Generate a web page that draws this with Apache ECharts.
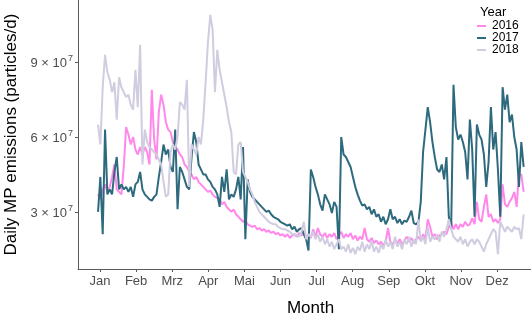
<!DOCTYPE html>
<html>
<head>
<meta charset="utf-8">
<script src="https://cdn.jsdelivr.net/npm/echarts@6/dist/echarts.min.js"></script>
<style>
html,body{margin:0;padding:0;background:#fff;}
#chart{width:531px;height:317px;}
</style>
</head>
<body>
<div id="chart"></div>
<script>
// Month tick labels (German) and positions
const months = ['Jan','Feb','Mrz','Apr','Mai','Jun','Jul','Aug','Sep','Okt','Nov','Dez'];
const monthTicks = [1,2,3,4,5,6,7,8,9,10,11,12];
// y ticks in units of 10^7
const yTicks = [3, 6, 9];
const years = ['2016', '2017', '2018'];

// Sampling: one value every 2 days starting at the first day of January
const startMonth = 0.945;
const stepDays = 2;
const daysPerMonth = 30.87;

// Daily MP emissions, in units of 10^7 particles/d
const v2016 = [
3.7,3.5,3.9,4.1,3.8,4.0,4.4,4.9,3.9,3.8,
3.7,4.8,6.4,6.1,5.7,6.0,5.5,5.3,5.6,5.3,
5.6,5.4,4.9,7.9,5.9,5.1,7.0,7.7,7.3,6.6,
6.3,6.2,5.8,5.6,5.5,5.3,5.2,4.9,4.8,4.6,
4.5,4.3,4.4,4.2,4.1,4.0,3.9,3.8,3.85,3.7,
3.6,3.55,3.5,3.3,3.4,3.2,3.1,3.0,3.1,2.9,
2.8,2.7,2.6,2.65,2.5,2.45,2.4,2.45,2.3,2.35,
2.25,2.3,2.2,2.25,2.15,2.2,2.1,2.15,2.05,2.1,
2.0,2.1,1.95,2.05,2.1,2.0,2.15,2.05,2.2,2.0,
2.1,1.95,2.3,2.0,2.35,2.1,2.0,2.15,1.95,2.1,
2.0,2.15,1.9,2.05,2.2,1.95,2.1,2.0,2.15,1.9,
2.05,1.85,2.0,1.9,2.35,1.9,1.8,1.95,1.75,1.85,
1.7,1.8,1.65,1.8,2.35,1.8,1.7,1.85,1.75,1.9,
1.7,1.85,2.0,1.8,1.95,1.75,1.9,2.0,1.85,2.1,
1.9,2.7,2.4,2.0,2.1,1.9,2.05,2.1,2.2,2.1,
2.4,2.6,2.3,2.5,2.3,2.5,2.4,2.6,2.45,2.5,
2.75,2.5,3.4,2.7,2.6,3.2,3.7,2.8,2.9,2.6,
2.7,2.55,2.7,4.1,3.3,3.2,3.4,3.55,3.8,3.2,
4.5,4.5,3.8
];
const v2017 = [
3.0,4.4,2.1,6.3,3.7,3.9,3.7,4.6,5.2,3.9,
4.1,3.9,4.0,3.8,4.0,3.6,4.1,4.2,4.6,3.9,
3.7,3.6,3.5,3.45,3.6,3.7,4.4,5.0,5.7,5.3,
5.5,4.8,4.6,6.3,3.1,4.8,4.6,4.3,4.0,3.9,
5.2,6.2,5.8,4.9,4.7,4.5,4.5,4.3,4.2,4.0,
3.9,3.7,3.2,4.4,3.8,4.7,3.5,3.7,3.6,3.9,
4.4,3.5,5.6,1.9,4.3,3.8,3.6,3.5,3.4,3.3,
3.2,3.1,3.0,3.05,2.9,2.8,2.75,2.7,2.6,2.55,
2.5,2.45,2.5,2.3,2.4,2.2,2.3,2.35,2.1,1.9,
1.45,4.7,4.4,4.0,3.7,3.3,3.05,3.7,3.5,3.3,
2.95,3.4,3.2,1.5,6.0,5.3,5.2,5.0,4.8,4.4,
4.0,3.7,3.45,3.25,3.3,3.1,3.2,2.9,3.1,2.8,
2.9,2.6,2.8,2.5,2.7,3.1,2.7,2.8,2.55,2.7,
2.5,2.65,2.6,2.8,3.05,2.55,2.5,2.6,3.4,5.4,
6.3,7.2,6.6,5.8,5.2,4.7,4.6,4.9,4.3,5.2,
2.8,2.3,8.1,6.4,5.9,6.1,5.8,5.4,4.3,6.7,
5.5,2.8,6.5,6.1,5.9,5.3,4.0,5.0,7.2,5.5,
6.2,4.7,2.8,8.0,7.1,7.7,6.6,6.9,6.0,5.5,
4.0,5.8,4.8
];
const v2018 = [
6.5,5.7,8.0,9.3,8.6,8.3,7.8,8.2,6.7,8.4,
8.0,7.8,7.6,7.7,7.3,7.1,8.7,7.2,9.7,4.9,
6.3,5.8,5.6,5.5,5.4,5.3,5.1,4.9,4.2,3.6,
3.7,5.4,5.7,5.5,6.0,7.4,7.3,7.1,8.3,4.0,
5.7,5.5,5.3,6.0,5.7,6.7,8.2,9.8,10.9,10.3,
7.8,9.5,8.7,8.2,7.7,7.2,6.6,6.2,4.6,4.5,
5.7,5.8,4.6,4.4,4.2,3.9,3.7,3.4,3.2,3.0,
2.9,2.8,2.7,2.6,2.55,2.5,2.5,2.4,2.35,2.3,
2.3,2.25,2.2,2.1,2.1,2.05,2.0,2.2,2.6,1.9,
2.1,2.0,2.2,1.9,2.1,1.8,2.0,1.7,1.9,1.6,
1.8,1.5,1.7,1.9,1.5,1.6,1.4,1.7,1.35,1.55,
1.3,1.6,1.45,1.8,1.4,1.7,1.5,1.85,1.4,1.6,
1.35,1.7,1.5,1.9,1.6,1.8,1.5,2.0,1.6,1.8,
1.5,1.9,1.7,2.0,1.6,1.9,1.7,2.7,1.8,2.0,
1.7,2.4,1.8,2.0,1.9,2.1,1.8,2.2,2.0,2.3,
2.7,2.3,2.0,1.9,1.8,2.0,1.7,1.9,1.6,1.8,
1.9,1.7,1.9,1.8,1.6,1.4,1.7,1.9,2.1,2.3,
2.2,1.3,2.6,2.4,2.2,2.4,2.3,2.2,2.4,2.3,
2.35,1.9,2.9
];

const colors = ['#ff88ea', '#2e6a7e', '#d1cce0'];
const seriesValues = [v2016, v2017, v2018];

function toPoints(vals) {
  return vals.map((v, i) => [startMonth + i * stepDays / daysPerMonth, v]);
}

const font = 'Liberation Sans, Arial, sans-serif';
const chart = echarts.init(document.getElementById('chart'), null, {renderer: 'canvas'});
const axisCol = '#5a5a5a';
chart.setOption({
  animation: false,
  backgroundColor: '#ffffff',
  title: {
    text: 'Year', left: 475, top: 1,
    textStyle: {fontSize: 13, fontWeight: 'normal', color: '#000', fontFamily: font}
  },
  legend: {
    data: years,
    orient: 'vertical',
    left: 477, top: 20,
    icon: 'rect',
    itemWidth: 9, itemHeight: 2,
    itemGap: 0,
    padding: 0,
    textStyle: {fontSize: 12, lineHeight: 11, height: 11, color: '#000', padding: [0,0,0,1], fontFamily: font}
  },
  grid: {left: 78, right: 0, top: 0, bottom: 48, containLabel: false, outerBoundsMode: 'none'},
  xAxis: {
    type: 'value', min: 0.39, max: 12.94,
    axisLine: {show: true, onZero: false, lineStyle: {color: axisCol, width: 1}},
    axisTick: {show: true, customValues: monthTicks, length: 3, lineStyle: {color: axisCol}},
    axisLabel: {customValues: monthTicks, formatter: v => months[Math.round(v) - 1], color: '#4d4d4d', fontSize: 13, margin: 6, fontFamily: font},
    splitLine: {show: false},
    name: 'Month', nameLocation: 'middle', nameGap: 31,
    nameTextStyle: {fontSize: 17, color: '#000', padding: [0,0,0,12], fontFamily: font}
  },
  yAxis: {
    type: 'value', min: 0.705, max: 11.5,
    axisLine: {show: true, onZero: false, lineStyle: {color: axisCol, width: 1}},
    axisTick: {show: true, customValues: yTicks, length: 3, lineStyle: {color: axisCol}},
    axisLabel: {
      customValues: yTicks,
      formatter: v => '{a|' + v + ' \u00d7 10}{s|7}',
      margin: 5,
      rich: {
        a: {fontSize: 13, color: '#4d4d4d', fontFamily: font, lineHeight: 16, verticalAlign: 'bottom'},
        s: {fontSize: 9, color: '#4d4d4d', fontFamily: font, lineHeight: 16, verticalAlign: 'top', padding: [0,0,6,1]}
      }
    },
    splitLine: {show: false},
    name: 'Daily MP emissions (particles/d)', nameLocation: 'middle', nameGap: 56,
    nameTextStyle: {fontSize: 17, color: '#000', fontFamily: font}
  },
  series: years.map((y, k) => ({
    name: y,
    type: 'line',
    data: toPoints(seriesValues[k]),
    showSymbol: false,
    symbol: 'none',
    color: colors[k],
    lineStyle: {width: 2, color: colors[k]},
    itemStyle: {color: colors[k]},
    z: 2 + k
  }))
});
</script>
</body>
</html>
